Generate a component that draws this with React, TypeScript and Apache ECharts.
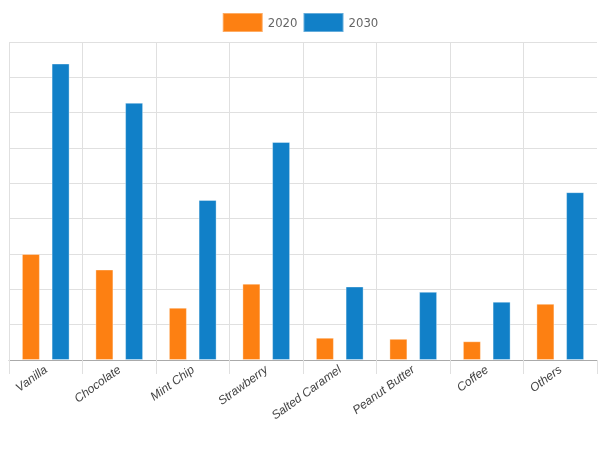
import React, { useEffect, useRef } from "react";
import * as echarts from "echarts";

const categories = ["Vanilla", "Chocolate", "Mint Chip", "Strawberry", "Salted Caramel", "Peanut Butter", "Coffee", "Others"];
const values2020 = [3.0, 2.56, 1.48, 2.16, 0.63, 0.6, 0.53, 1.59];
const values2030 = [8.39, 7.28, 4.53, 6.17, 2.08, 1.93, 1.65, 4.75];
const seriesNames = ["2020", "2030"];

export default function App() {
  const ref = useRef<HTMLDivElement>(null);
  useEffect(() => {
    if (!ref.current) return;
    const chart = echarts.init(ref.current, undefined, { renderer: "svg" });
    const gridColor = "#e0e0e0";
    chart.setOption({
      animation: false,
      legend: {
        top: 7,
        left: "center",
        itemWidth: 40,
        itemHeight: 19,
        itemGap: 5,
        icon: "rect",
        textStyle: { fontSize: 13, color: "#666", fontFamily: "'Liberation Sans Narrow', 'DejaVu Sans Condensed', 'Liberation Sans', sans-serif" },
        data: seriesNames,
      },
      grid: { left: 9, right: 3, top: 42, bottom: 92, containLabel: false },
      xAxis: {
        type: "category",
        data: categories,
        axisLine: { lineStyle: { color: "#aaa", width: 1 } },
        axisTick: { show: true, length: 14, lineStyle: { color: gridColor } },
        splitLine: { show: true, showMaxLine: false, lineStyle: { color: gridColor } },
        axisLabel: {
          rotate: 36,
          margin: 8,
          fontSize: 12,
          fontStyle: "italic",
          color: "#444",
          fontFamily: "'Liberation Sans', Arial, sans-serif",
          interval: 0,
        },
      },
      yAxis: {
        type: "value",
        min: 0,
        max: 9,
        interval: 1,
        axisLabel: { show: false },
        axisLine: { show: false },
        axisTick: { show: false },
        splitLine: { lineStyle: { color: gridColor } },
      },
      series: [
        {
          name: seriesNames[0],
          type: "bar",
          data: values2020,
          barWidth: 18,
          barGap: "65%",
          itemStyle: { color: "#fd8012", borderColor: "rgba(255,255,255,0.35)", borderWidth: 1 },
        },
        {
          name: seriesNames[1],
          type: "bar",
          data: values2030,
          barWidth: 18,
          barGap: "65%",
          itemStyle: { color: "#1180c8", borderColor: "rgba(255,255,255,0.35)", borderWidth: 1 },
        },
      ],
    });
    return () => chart.dispose();
  }, []);
  return <div ref={ref} style={{ position: "fixed", left: 0, top: 0, width: 600, height: 452 }} />;
}
